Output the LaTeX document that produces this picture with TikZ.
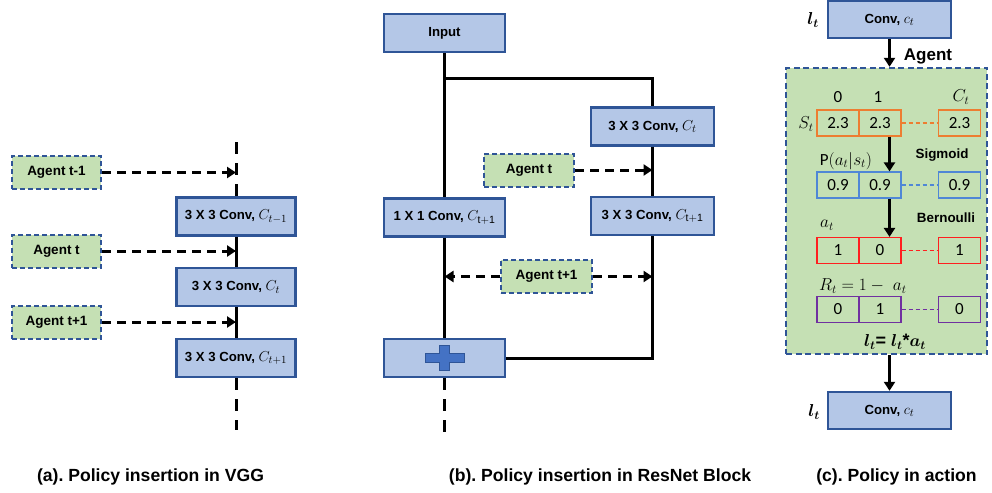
\documentclass[tikz,border=0pt]{standalone}
\usepackage{amsmath}
\usepackage{fontspec}
\setmainfont{Liberation Sans}
\newfontfamily\cellfont{Carlito}
\usetikzlibrary{arrows.meta}
\frenchspacing

\definecolor{boxfill}{HTML}{B4C7E7}
\definecolor{boxline}{HTML}{2F5597}
\definecolor{agentfill}{HTML}{C5E0B4}
\definecolor{plusblue}{HTML}{4472C4}
\definecolor{cellorange}{HTML}{ED7D31}
\definecolor{cellblue}{HTML}{4F87D6}
\definecolor{cellred}{HTML}{FF1F1F}
\definecolor{cellpurple}{HTML}{7030A0}

% bold math kept inside its own group (the \aftergroup of \mathversion stays local)
\newcommand{\boldmathtext}[1]{{\boldmath #1}}
% math symbols set a little larger than the box lettering
\newcommand{\mth}[1]{{\fontsize{15}{16}\selectfont$#1$}}

\tikzset{
  convbox/.style={draw=boxline, fill=boxfill, line width=2.4pt, inner sep=0pt,
    minimum width=#1, minimum height=38pt,
    font=\fontsize{13.2}{15}\selectfont\bfseries},
  convbox/.default=119pt,
  agentbox/.style={draw=boxline, fill=agentfill, line width=2pt,
    dash pattern=on 5pt off 3pt, inner sep=0pt,
    minimum width=89pt, minimum height=33pt,
    font=\fontsize{13.5}{15}\selectfont\bfseries},
  policyarea/.style={draw=boxline, fill=agentfill, line width=2.4pt,
    dash pattern=on 6pt off 3.5pt, inner sep=0pt},
  link/.style={line width=3pt, black},
  dashlink/.style={line width=3pt, black, dash pattern=on 12pt off 9pt},
  feed/.style={line width=3pt, black, dash pattern=on 9pt off 6pt,
    -{Triangle[length=9pt,width=11pt]}},
  flow/.style={line width=3pt, black, -{Triangle[length=9pt,width=11pt]}},
  cell/.style={draw=#1, line width=1.2pt, minimum width=42pt,
    minimum height=26pt, inner sep=0pt,
    font=\cellfont\fontsize{17}{18}\selectfont},
  celldash/.style={draw=#1, line width=1.6pt, dash pattern=on 4.5pt off 2.5pt},
  tag/.style={inner sep=0pt, font=\fontsize{13.4}{15}\selectfont\bfseries},
  mathtag/.style={inner sep=0pt, font=\fontsize{18}{20}\selectfont},
  plain/.style={inner sep=0pt, font=\cellfont\fontsize{17}{18}\selectfont},
  caption/.style={inner sep=0pt, font=\fontsize{17.6}{20}\selectfont\bfseries},
}

\begin{document}
\begin{tikzpicture}[x=1pt,y=-1pt]
\useasboundingbox (0,0) rectangle (992,492);

% ---------------- (a) VGG ----------------
\node[convbox] (v1) at (236,216.5) {3 X 3 Conv, \mth{C_{t-1}}};
\node[convbox] (v2) at (236,287) {3 X 3 Conv, \mth{C_t}};
\node[convbox] (v3) at (236,358) {3 X 3 Conv, \mth{C_{t+1}}};
\coordinate (vtop) at (236,142);
\coordinate (vbot) at (236,430);
\draw[dashlink] (vtop) -- (v1.north);
\draw[link] (v1.south) -- (v2.north);
\draw[link] (v2.south) -- (v3.north);
\draw[dashlink] (v3.south) -- (vbot);

\node[agentbox] (g1) at (56.5,172.5) {Agent t-1};
\node[agentbox] (g2) at (56.5,251) {Agent t};
\node[agentbox] (g3) at (56.5,322) {Agent t+1};
\draw[feed] (g1.east) -- (g1.east -| v1.center);
\draw[feed] (g2.east) -- (g2.east -| v1.center);
\draw[feed] (g3.east) -- (g3.east -| v1.center);

\node[caption] (capa) at (150.5,477) {(a). Policy insertion in VGG};

% ---------------- (b) ResNet block ----------------
\node[convbox=121pt] (inp) at (444.5,33) {Input};
\node[convbox=121pt] (c11) at (444.5,217.5) {1 X 1 Conv, \mth{C_{\mathrm{t+1}}}};
\node[convbox=121pt] (pl) at (444.5,358) {};
\node[convbox=123pt] (r1) at (652.5,126.5) {3 X 3 Conv, \mth{C_t}};
\node[convbox=123pt] (r2) at (652.5,216) {3 X 3 Conv, \mth{C_{\mathrm{t+1}}}};
\coordinate (split) at (444.5,79);
\coordinate (pbot) at (444.5,432);

\draw[link] (inp.south) -- (c11.north);
\draw[link] (split) -| (r1.north);
\draw[link] (r1.south) -- (r2.north);
\draw[link] (r2.south) |- (pl.east);
\draw[link] (c11.south) -- (pl.north);
\draw[dashlink] (pl.south) -- (pbot);

% plus sign inside the sum box
\draw[shift={(pl.center)}, fill=plusblue, draw=boxline, line width=0.6pt]
  (-19.5,-4.75) -- (-4.75,-4.75) -- (-4.75,-12.5) -- (4.75,-12.5)
  -- (4.75,-4.75) -- (19.5,-4.75) -- (19.5,4.75) -- (4.75,4.75)
  -- (4.75,12.5) -- (-4.75,12.5) -- (-4.75,4.75) -- (-19.5,4.75) -- cycle;

\node[agentbox, minimum width=90pt] (bt) at (529,170) {Agent t};
\node[agentbox, minimum width=91pt] (bt1) at (546.5,276.5) {Agent t+1};
\draw[feed] (bt.east) -- (bt.east -| r1.center);
\draw[feed] (bt1.west) -- (bt1.west -| c11.center);
\draw[feed] (bt1.east) -- (bt1.east -| r2.center);

\node[caption] (capb) at (600,477) {(b). Policy insertion in ResNet Block};

% ---------------- (c) policy in action ----------------
\node[policyarea, minimum width=201pt, minimum height=286pt] (area) at (886.5,211) {};
\node[convbox=123pt, minimum height=37pt] (ct) at (889.5,19.5) {Conv, \mth{c_t}};
\node[mathtag] (lt1) at (813,20) {\boldmathtext{$l_t$}};
\draw[flow] (ct.south) -- (ct.south |- area.north);
\node[inner sep=0pt, font=\fontsize{17}{19}\selectfont\bfseries] (agl) at (928,56.5) {Agent};

\node[plain] (k0) at (838,97) {0};
\node[plain] (k1) at (878,97) {1};
\node[mathtag] (kc) at (961,97) {$C_t$};

\node[mathtag] (st) at (806,124) {$S_t$};
\node[cell=cellorange] (s1) at (838,123) {2.3};
\node[cell=cellorange] (s2) at (880,123) {2.3};
\node[cell=cellorange] (s3) at (959.5,123) {2.3};
\draw[celldash=cellorange] (s2.east) -- (s3.west);

\node[plain] (pl1) at (846,161) {P$(a_t|s_t)$};
\node[tag] (sig) at (942,155) {Sigmoid};
\node[cell=cellblue] (p1) at (838,185) {0.9};
\node[cell=cellblue] (p2) at (880,185) {0.9};
\node[cell=cellblue] (p3) at (959.5,185) {0.9};
\draw[celldash=cellblue] (p2.east) -- (p3.west);
\draw[flow] (s2.south -| ct.south) -- (p2.north -| ct.south);

\node[mathtag] (at) at (827,225) {$a_t$};
\node[tag] (ber) at (946,218) {Bernoulli};
\node[cell=cellred] (a1) at (838,250.5) {1};
\node[cell=cellred] (a2) at (880,250.5) {0};
\node[cell=cellred] (a3) at (959.5,250.5) {1};
\draw[celldash=cellred] (a2.east) -- (a3.west);
\draw[flow] (p2.south -| ct.south) -- (a2.north -| ct.south);

\node[mathtag, anchor=west] (rt) at (819,286) {$R_t = 1-\ a_t$};
\node[cell=cellpurple] (q1) at (838,309.5) {0};
\node[cell=cellpurple] (q2) at (880,309.5) {1};
\node[cell=cellpurple] (q3) at (959.5,309.5) {0};
\draw[celldash=cellpurple] (q2.east) -- (q3.west);

\node[mathtag] (upd) at (895,342) {\boldmathtext{$l_t$\textbf{= }$l_t$\textbf{*}$a_t$}};

\node[convbox=123pt, minimum height=37pt] (cb) at (889.5,410.5) {Conv, \mth{c_t}};
\node[mathtag] (lt2) at (814,412) {\boldmathtext{$l_t$}};
\draw[flow] (area.south -| cb.north) -- (cb.north);

\node[caption] (capc) at (896.5,477) {(c). Policy in action};
\end{tikzpicture}
\end{document}
